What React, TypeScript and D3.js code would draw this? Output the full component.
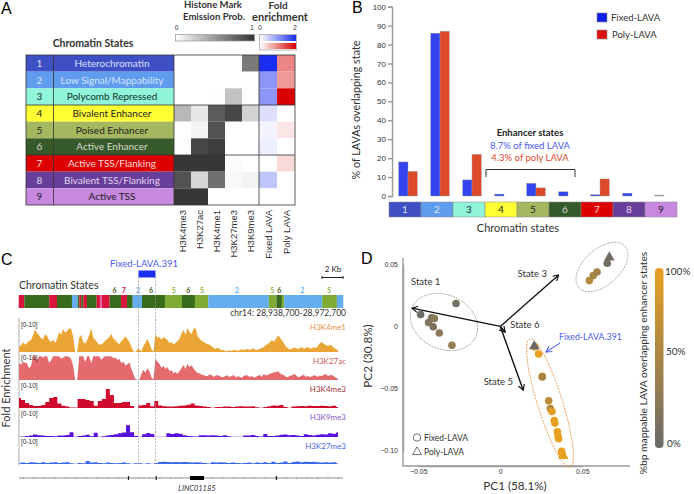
import * as d3 from "d3";
import { useEffect, useRef } from "react";

const sans = "Lato, 'Open Sans', sans-serif";
const arial = "'Liberation Sans', Arial, sans-serif";

// panel A
const stateIds = [1, 2, 3, 4, 5, 6, 7, 8, 9];
const stateNames = ["Heterochromatin", "Low Signal/Mappability", "Polycomb Repressed", "Bivalent Enhancer", "Poised Enhancer", "Active Enhancer", "Active TSS/Flanking", "Bivalent TSS/Flanking", "Active TSS"];
const stateColors = ["#3f4fc4", "#5f9cee", "#90f5d9", "#ffff33", "#a6b85f", "#375a2b", "#dd0000", "#673f9a", "#c888e0"];
const stateText = ["#d8e0ff", "#d6e6ff", "#12302c", "#222222", "#222222", "#d4dccc", "#ffdcdc", "#e2d4f2", "#222222"];
const marks = ["H3K4me3", "H3K27ac", "H3K4me1", "H3K27me3", "H3K9me3"];
const emission = [
  [0, 0, 0, 0, 0.65],
  [0, 0, 0, 0, 0],
  [0, 0, 0.01, 0.3, 0],
  [0.35, 0.12, 0.8, 0.9, 0.22],
  [0, 0.05, 0.85, 0, 0],
  [0.01, 0.9, 0.95, 0, 0],
  [0.98, 0.98, 0.98, 0.02, 0],
  [0.85, 0.2, 0.7, 0.03, 0.06],
  [0.98, 0.98, 0, 0, 0],
];
const foldFixed = [2, 1, 1, 0.3, 0.1, 0.15, 0, 0.55, 0];
const foldPoly = [0.95, 0.8, 2, 0, 0.2, 0, 0.3, 0, 0];

// panel B
const fixedPct = [18, 86, 8.5, 1, 6.7, 2.2, 0.7, 1.5, 0.5];
const polyPct = [13, 87, 22, 0, 4.3, 0, 9, 0, 0];

// panel C: chromatin segments, [state, end in kb]
const segments: [number, number][] = [
  [7, 0.59], [6, 3.2], [7, 4.01], [6, 5.58], [2, 6.18], [6, 6.35], [7, 6.55], [6, 6.76], [7, 7.15], [6, 8.17], [7, 8.51], [0, 8.72], [7, 9.53], [6, 10.71], [7, 11.34], [6, 11.94], [2, 12.91], [6, 15.32], [5, 17.1], [6, 18.46], [5, 19.85], [2, 26.2], [5, 27.0], [6, 27.57], [5, 27.81], [2, 31.79], [5, 33.33], [2, 34],
];
const segLabels: [string, number][] = [["6", 10.05], ["7", 11.0], ["2", 12.5], ["6", 13.85], ["5", 16.25], ["6", 17.75], ["5", 19.2], ["2", 22.85], ["5", 26.55], ["6", 27.3], ["2", 29.7], ["5", 32.5]];
const k4me1 = [
  1.8, 2.4, 3.5, 2.6, 3.2, 3.9, 4.3, 5.9, 8, 6.8, 6, 4.9, 4.6, 6.3, 5.7, 4.2, 3.6, 4.4, 3.2, 4.6,
  7.1, 6.2, 8.2, 6.9, 7.5, 8.5, 8.2, 5.5, 0, 0, 5, 6.2, 3.6, 3, 4.3, 6.1, 8.5, 5.2, 4.3, 3.4,
  2.5, 2.9, 3.2, 4.1, 4.6, 5.3, 6.4, 4.8, 4.3, 3.3, 2.9, 3.8, 4.6, 5.6, 4.6, 3.7, 1.8, 0.3, 0, 0.9,
  1, 0.2, 2.1, 3.3, 4.6, 3.1, 1, 0.1, 6.4, 5.1, 5.4, 4.4, 5.4, 4.8, 4.3, 3.2, 3.6, 2.7, 3.2, 3.9,
  4.6, 6.6, 7.9, 6.2, 8.6, 7.1, 6.4, 8.2, 8.6, 5.7, 4.6, 4.1, 3.6, 3.1, 2.9, 2.6, 2.1, 1.4, 1.1, 1.5,
  1.1, 0.6, 0.7, 0.3, 0.4, 0.6, 0.4, 0.8, 0.7, 0.4, 0.7, 1, 0.7, 0.9, 1.1, 0.7, 1.1, 1.3, 0.7, 0.9,
  1.1, 1.4, 1.8, 2.4, 2.9, 3.5, 4.3, 3.7, 4.6, 5.8, 5.4, 4.2, 3.2, 2, 1.4, 0.9, 1.1, 1.6, 1.4, 1.1,
  1.4, 1.8, 1.1, 1.5, 1.8, 1.2, 1.4, 1.7, 1.4, 2.1, 3.2, 3.5, 2.9, 2.4, 2.1, 2.6, 2.1, 1.5, 1.1, 0.6,
];
const k27ac = [
  6, 5.5, 6.5, 6.2, 6, 4.2, 5, 8.5, 8.5, 7.2, 8.5, 8.5, 8, 8.5, 8.5, 6.2, 7, 8.5, 8.5, 8.5,
  8.5, 7.6, 8, 8.5, 8.5, 8.2, 7.5, 5, 0, 0, 8.5, 8.5, 8.5, 6.3, 8.5, 8.5, 6, 8.5, 8.5, 8.5,
  8.5, 7.1, 8, 8.5, 8.5, 8.5, 8.5, 7.9, 8, 7.2, 7.5, 6.1, 6.5, 5.2, 5.5, 6.3, 4, 2.1, 0.4, 0,
  0, 2.1, 3.6, 2.6, 4.2, 3.1, 1, 0.1, 7.5, 6.6, 5.7, 4.4, 5, 3.9, 4.6, 3.2, 3.5, 2.4, 2.9, 2.2,
  3.2, 4.2, 5.4, 3.9, 5.7, 4.6, 5.3, 4.1, 3.2, 2.5, 2.4, 1.9, 1.8, 1.3, 1.4, 2, 1.8, 1.2, 1.5, 1.8,
  1.4, 1, 1.1, 1.5, 1.6, 1.1, 1.4, 1.8, 1, 1.3, 1.2, 0.8, 1.4, 1.7, 1.6, 1.1, 1.4, 0.9, 1.1, 1.5,
  1.8, 1.2, 2.1, 1.6, 1.8, 2.2, 2.4, 2.7, 2.9, 3.1, 2.5, 2, 1.8, 1.2, 1, 1.5, 1.6, 2.1, 1.8, 1,
  1.2, 1.6, 1.8, 1.2, 1.4, 1.1, 1.3, 1.7, 1.4, 1.2, 1.6, 1.3, 1.9, 2.1, 1.4, 1.7, 1.8, 1.3, 0.8, 0.4,
];
const k4me3 = [3.6, 2.9, 1.8, 1.1, 0.7, 0.7, 1.1, 2.1, 3.6, 3.9, 1.6, 0.8, 0.5, 0.2, 0.2, 3.2, 3.2, 2.9, 2.5, 0.8, 2.5, 3.2, 6.8, 4.6, 1.8, 1.8, 2.1, 2.1, 0.7, 0, 0.9, 1.1, 1.8, 0.6, 2.5, 0.9, 0.6, 0.5, 0.5, 0.6, 0.8, 0.9, 1.2, 1.6, 0.9, 0.7, 0.5, 0.4, 0.1, 0.4, 0.4, 0.5, 0.5, 0.4, 0.5, 0.6, 0.5, 0.5, 0.6, 0.3, 0.1, 0.4, 0.6, 0.9, 0.8, 1.1, 0.4, 0.1, 0.5, 0.6, 0.7, 0.6, 0.8, 0.7, 0.7, 0.8, 0.7, 0.6, 0.8, 0.4];
const k9me3 = [0.1, 0.2, 0.4, 0.5, 0.9, 0.6, 0.5, 0.4, 0.4, 0.3, 0.5, 0.5, 0.7, 1.7, 0.1, 0.4, 0.5, 0.8, 0.3, 1.5, 0.1, 0.3, 0.5, 0.7, 1, 1.3, 1.6, 4.2, 1.7, 0.4, 0.1, 1, 1.4, 1.1, 0.1, 0.1, 0.1, 1.3, 1.1, 1.3, 1.2, 0.6, 0.4, 0.3, 0.2, 0.6, 0.6, 0.5, 0.6, 0.5, 0.4, 0.6, 0.3, 0.1, 0.1, 0.1, 0.5, 0.5, 0.7, 0.4, 0.2, 1.1, 0.4, 0.4, 0.5, 0.8, 0.9, 0.6, 0.7, 0.5, 0.4, 1, 0.7, 0.5, 0.8, 1, 0.9, 1.3, 1.2, 1.6];
const k27me3 = [0.3, 0.5, 0.4, 0.6, 0.5, 0.4, 0.6, 0.4, 0.5, 0.6, 0.4, 0.5, 0.6, 0.3, 0.1, 0.4, 0.3, 1.1, 0.5, 0.6, 0.4, 0.3, 0.5, 0.4, 0.3, 0.4, 0.5, 0.3, 0.1, 0.3, 0.3, 0.1, 0.3, 0.1, 0.4, 0.7, 0.8, 0.7, 0.6, 0.7, 0.6, 0.7, 0.6, 0.5, 0.6, 0.5, 0.4, 0.2, 0.6, 0.5, 0.6, 0.5, 0.4, 0.5, 0.4, 0.3, 0.4, 0.5, 0.3, 0.5, 0.4, 0.6, 0.4, 0.8, 0.4, 0.5, 0.9, 0.4, 0.7, 0.9, 0.6, 0.8, 0.7, 0.8, 0.6, 0.5, 0.6, 0.5, 0.6, 0.3];
const tracks = [
  { name: "H3K4me1", values: k4me1, base: 352, fill: "#eba535", text: "#e8904a", labelY: 330, rangeY: 327 },
  { name: "H3K27ac", values: k27ac, base: 380, fill: "#e46a6e", text: "#c95a5c", labelY: 364, rangeY: 360 },
  { name: "H3K4me3", values: k4me3, base: 408, fill: "#cf0a2c", text: "#a83236", labelY: 392, rangeY: 388 },
  { name: "H3K9me3", values: k9me3, base: 437, fill: "#5a10e0", text: "#8458c4", labelY: 420, rangeY: 416 },
  { name: "H3K27me3", values: k27me3, base: 464, fill: "#3a66e8", text: "#4a68e0", labelY: 449, rangeY: 444 },
];
const exonsKb = [11.5, 14.4, 27];

// panel D
const fixedPts: [number, number, number][] = [
  [0.0211, -0.0166, 100], [0.0256, -0.0402, 100],
  [-0.027, 0.0184, 10], [-0.0486, 0.0096, 5], [-0.0419, 0.007, 15], [-0.0402, 0.0064, 25], [-0.0437, 0.0032, 20], [-0.0409, -0.0003, 15], [-0.0372, -0.0053, 28], [-0.0295, -0.0152, 35],
  [0.0543, 0.0369, 60], [0.0567, 0.0409, 50], [0.059, 0.0438, 45], [0.0652, 0.0508, 8],
  [0.0234, -0.0222, 100], [0.0256, -0.0406, 50], [0.0295, -0.0599, 65], [0.0305, -0.066, 60], [0.0315, -0.0684, 95], [0.0329, -0.0757, 100], [0.0333, -0.0778, 100], [0.0348, -0.0848, 100], [0.0352, -0.0882, 100], [0.0356, -0.0904, 100], [0.0374, -0.1005, 100], [0.0378, -0.1029, 100],
];
const polyPts: [number, number, number][] = [[0.0665, 0.0556, 5], [0.0207, -0.016, 0], [0.0384, -0.1043, 100]];
const loadings: [string, number, number, number, number][] = [
  ["State 1", -0.0538, 0.0147, -0.0455, 0.0335],
  ["State 3", 0.0356, 0.0414, 0.0195, 0.0395],
  ["State 6", 0.003, -0.0045, 0.015, -0.0015],
  ["State 5", 0.014, -0.0513, -0.0012, -0.047],
];

function Axis({ axis, transform, size = 7 }: { axis: any; transform: string; size?: number }) {
  const ref = useRef<SVGGElement>(null);
  useEffect(() => {
    const g = d3.select(ref.current).call(axis);
    g.selectAll("path,line").attr("stroke", "#9a9a9a").attr("stroke-width", 1.4);
    g.selectAll("text").attr("fill", "#333").attr("font-family", arial).attr("font-size", size);
  }, [axis]);
  return <g ref={ref} transform={transform} />;
}

function PanelA() {
  const y = d3.scaleBand<number>().domain(d3.range(9)).range([55, 205]);
  const x = d3.scaleBand<string>().domain(marks).range([174, 259]);
  const xf = d3.scaleBand<string>().domain(["Fixed LAVA", "Poly LAVA"]).range([259, 295]);
  const grey = d3.scaleLinear<string>().domain([0, 1]).range(["#ffffff", "#333333"]);
  const blue = d3.scaleLinear<string>().domain([0, 2]).range(["#ffffff", "#1a2cf0"]);
  const red = d3.scaleLinear<string>().domain([0, 2]).range(["#ffffff", "#d80000"]);
  const h = y.bandwidth();
  return (
    <g>
      <text x={1} y={14} fontFamily={arial} fontSize={16}>A</text>
      <g fontFamily={sans} fontWeight={700} fontSize={9.5} fill="#333" textAnchor="middle">
        <text x={213} y={8}>Histone Mark</text>
        <text x={214} y={20}>Emission Prob.</text>
        <text x={278} y={9} fontSize={10}>Fold</text>
        <text x={280} y={21} fontSize={11}>enrichment</text>
        <text x={93} y={47} fontSize={10.5}>Chromatin States</text>
      </g>
      <defs>
        <linearGradient id="greyBar"><stop offset="0" stopColor="#fff" /><stop offset="1" stopColor="#333" /></linearGradient>
        <linearGradient id="blueBar"><stop offset="0" stopColor="#fff" /><stop offset="1" stopColor="#1a2cf0" /></linearGradient>
        <linearGradient id="redBar"><stop offset="0" stopColor="#fff" /><stop offset="1" stopColor="#d80000" /></linearGradient>
      </defs>
      <rect x={175.5} y={34.5} width={79} height={6.5} fill="url(#greyBar)" stroke="#999" strokeWidth={0.7} />
      <rect x={259.5} y={34.5} width={37} height={15.5} fill="#fff" stroke="#999" strokeWidth={0.7} />
      <rect x={260} y={35} width={36} height={6} fill="url(#blueBar)" />
      <rect x={260} y={43} width={36} height={6} fill="url(#redBar)" />
      <g fontFamily={arial} fontSize={6.5} fill="#333" textAnchor="middle">
        <text x={176.5} y={30}>0</text>
        <text x={252} y={30}>1</text>
        <text x={260} y={30}>0</text>
        <text x={295} y={30}>2</text>
      </g>
      {stateIds.map((id, i) => (
        <g key={id}>
          <rect x={26} y={y(i)} width={148} height={h} fill={stateColors[i]} />
          <text x={39.5} y={y(i)! + h / 2 + 3.5} textAnchor="middle" fontFamily={sans} fontSize={10} fill={stateText[i]}>{id}</text>
          <text x={112} y={y(i)! + h / 2 + 3.5} textAnchor="middle" fontFamily={sans} fontSize={10} fill={stateText[i]}>{stateNames[i]}</text>
          {marks.map((m, j) => (
            <rect key={m} x={x(m)} y={y(i)} width={x.bandwidth()} height={h} fill={grey(emission[i][j])} />
          ))}
          <rect x={xf("Fixed LAVA")} y={y(i)} width={xf.bandwidth()} height={h} fill={blue(foldFixed[i])} />
          <rect x={xf("Poly LAVA")} y={y(i)} width={xf.bandwidth()} height={h} fill={red(foldPoly[i])} />
        </g>
      ))}
      <g stroke="#333" strokeWidth={0.8} fill="none">
        <rect x={26} y={55} width={269} height={150} />
        <line x1={53.5} x2={53.5} y1={55} y2={205} />
        <line x1={174} x2={174} y1={55} y2={205} />
        <line x1={259} x2={259} y1={55} y2={205} />
        <line x1={26} x2={295} y1={y(3)} y2={y(3)} />
        <line x1={26} x2={295} y1={y(6)} y2={y(6)} />
      </g>
      <g fontFamily={arial} fontSize={9.5} fill="#333" textAnchor="end">
        {marks.map((m) => (
          <text key={m} transform={`translate(${x(m)! + x.bandwidth() / 2 + 3.5},210) rotate(-90)`}>{m}</text>
        ))}
        {xf.domain().map((m) => (
          <text key={m} transform={`translate(${xf(m)! + xf.bandwidth() / 2 + 3.5},210) rotate(-90)`}>{m}</text>
        ))}
      </g>
    </g>
  );
}

function PanelB() {
  const x = d3.scaleBand<number>().domain(stateIds).range([389, 677]);
  const y = d3.scaleLinear().domain([0, 100]).range([196, 6.7]);
  const yAxis = d3.axisLeft(y).tickValues(d3.range(0, 101, 10)).tickSize(4).tickPadding(2);
  return (
    <g>
      <text x={352} y={13} fontFamily={arial} fontSize={16}>B</text>
      <Axis axis={yAxis} transform="translate(392,0)" size={8} />
      {stateIds.map((id, i) => (
        <g key={id} stroke="#999" strokeWidth={0.4}>
          <rect x={x(id)! + 9.7} y={y(fixedPct[i])} width={9.3} height={y(0) - y(fixedPct[i])} fill={i === 8 ? "#999" : "#3344ee"} />
          {polyPct[i] > 0 && <rect x={x(id)! + 19} y={y(polyPct[i])} width={9.3} height={y(0) - y(polyPct[i])} fill="#dd4a2b" />}
        </g>
      ))}
      {stateIds.map((id, i) => (
        <g key={id}>
          <rect x={x(id)} y={202} width={x.bandwidth()} height={15} fill={stateColors[i]} stroke="#888" strokeWidth={0.5} />
          <text x={x(id)! + x.bandwidth() / 2} y={213} textAnchor="middle" fontFamily={sans} fontSize={10} fill={stateText[i]}>{id}</text>
        </g>
      ))}
      <text x={518} y={232} textAnchor="middle" fontFamily={sans} fontSize={11} fill="#333">Chromatin states</text>
      <text transform="translate(360,110) rotate(-90)" textAnchor="middle" fontFamily={sans} fontSize={10.8} fill="#333">% of LAVAs overlapping  state</text>
      <rect x={597} y={13} width={10} height={9} fill="#1020e8" stroke="#888" strokeWidth={0.6} />
      <rect x={597} y={30} width={10} height={9} fill="#dd1111" stroke="#888" strokeWidth={0.6} />
      <g fontFamily={sans} fontSize={9.5} fill="#333">
        <text x={611} y={21}>Fixed-LAVA</text>
        <text x={612} y={38}>Poly-LAVA</text>
      </g>
      <g fontFamily={sans} fontSize={9.5} textAnchor="middle">
        <text x={530} y={136} fontWeight={700} fill="#222">Enhancer states</text>
        <text x={530} y={149} fill="#4a5cf0">8.7% of fixed LAVA</text>
        <text x={530} y={161} fill="#e0472a">4.3% of poly LAVA</text>
      </g>
      <path d="M486,177V169.5H575V177" fill="none" stroke="#333" strokeWidth={1} />
    </g>
  );
}

function PanelC() {
  const kb = d3.scaleLinear().domain([0, 34]).range([18.7, 343.3]);
  const segColor = (s: number) => (s === 7 ? "#d8143c" : s === 6 ? "#386b1c" : s === 5 ? "#7fab35" : s === 2 ? "#64aef0" : "#e860b0");
  const labelColor = (s: string) => (s === "7" ? "#d8143c" : s === "6" ? "#4a5a2a" : s === "5" ? "#8cb040" : "#64aef0");
  const area = (base: number, n: number) => {
    const ix = d3.scaleLinear().domain([0, n - 1]).range([19, 338]);
    return d3.area<number>().x((_, i) => ix(i)).y0(base).y1((d) => base - d * 2.8).curve(n < 100 ? d3.curveStep : d3.curveLinear);
  };
  return (
    <g>
      <text x={1} y={265} fontFamily={arial} fontSize={16}>C</text>
      <text x={144} y={267} textAnchor="middle" fontFamily={sans} fontSize={9.5} fill="#4a5cf0">Fixed-LAVA.391</text>
      <rect x={138.5} y={270.5} width={17} height={7} fill="#1a30ee" />
      <text x={19} y={289} fontFamily={sans} fontSize={10.5} fill="#333">Chromatin States</text>
      <text x={333} y={272} textAnchor="middle" fontFamily={sans} fontSize={8} fill="#222">2 Kb</text>
      <path d="M322,276V279M322,277.5H343M343,276V279" stroke="#222" strokeWidth={1} fill="none" />
      {segments.map(([s, end], i) => {
        const start = i === 0 ? 0 : segments[i - 1][1];
        return <rect key={i} x={kb(start)} y={295} width={kb(end) - kb(start)} height={13} fill={segColor(s)} />;
      })}
      {segLabels.map(([s, k], i) => (
        <text key={i} x={kb(k)} y={293} textAnchor="middle" fontFamily={sans} fontWeight={700} fontSize={7} fill={labelColor(s)}>{s}</text>
      ))}
      <text x={346} y={316} textAnchor="end" fontFamily={sans} fontSize={8.5} fill="#333">chr14: 28,938,700-28,972,700</text>
      <line x1={19} x2={19} y1={318} y2={465} stroke="#bbb" strokeWidth={1.2} />
      {tracks.map((t) => (
        <g key={t.name}>
          <path d={area(t.base, t.values.length)(t.values)!} fill={t.fill} />
          <text x={346} y={t.labelY} textAnchor="end" fontFamily={sans} fontSize={8} fill={t.text}>{t.name}</text>
          <text x={21} y={t.rangeY} fontFamily={arial} fontSize={6.5} fill="#333">[0-10]</text>
        </g>
      ))}
      <g stroke="#999" strokeWidth={0.7} strokeDasharray="2,1.5">
        <line x1={138.5} x2={138.5} y1={277} y2={466} />
        <line x1={155.5} x2={155.5} y1={277} y2={466} />
      </g>
      <text transform="translate(10,388) rotate(-90)" textAnchor="middle" fontFamily={sans} fontSize={11} fill="#333">Fold Enrichment</text>
      <line x1={19} x2={343} y1={478} y2={478} stroke="#444" strokeWidth={0.6} />
      {d3.range(0.5, 34, 1.1).map((k) => (
        <line key={k} x1={kb(k)} x2={kb(k)} y1={476.8} y2={479.2} stroke="#8090c0" strokeWidth={0.5} />
      ))}
      {exonsKb.map((k) => (
        <rect key={k} x={kb(k) - 0.6} y={476} width={1.2} height={4} fill="#222" />
      ))}
      <rect x={190} y={476} width={14} height={4} fill="#000" />
      <text x={197} y={491} textAnchor="middle" fontFamily={sans} fontStyle="italic" fontSize={7.5} fill="#333">LINC01185</text>
    </g>
  );
}

function PanelD() {
  const x = d3.scaleLinear().domain([-0.05, 0.05]).range([418.3, 582.3]);
  const y = d3.scaleLinear().domain([-0.1, 0.05]).range([450.7, 264.3]);
  const pct = d3.scaleLinear<string>().domain([0, 100]).range(["#6a6a6a", "#e8a020"]);
  const fmt = (d: any) => (d === 0 ? "0" : d3.format(".2f")(d));
  const xAxis = d3.axisBottom(x).tickValues([-0.05, 0, 0.05]).tickFormat(fmt).tickSize(0).tickPadding(3);
  const yAxis = d3.axisLeft(y).tickValues([-0.1, -0.05, 0, 0.05]).tickFormat(fmt).tickSize(0).tickPadding(5);
  const tri = d3.symbol().type(d3.symbolTriangle).size(48);
  return (
    <g>
      <text x={361} y={264} fontFamily={arial} fontSize={16}>D</text>
      <defs>
        <linearGradient id="pctBar" x1="0" x2="0" y1="0" y2="1"><stop offset="0" stopColor="#e8a020" /><stop offset="1" stopColor="#6a6a6a" /></linearGradient>
        <marker id="head" viewBox="0 0 10 10" refX={9} refY={5} markerWidth={7} markerHeight={7} orient="auto-start-reverse" markerUnits="userSpaceOnUse">
          <path d="M1,0.5L9,5L1,9.5" fill="none" stroke="#111" strokeWidth={1.6} />
        </marker>
        <marker id="headBlue" viewBox="0 0 10 10" refX={9} refY={5} markerWidth={7} markerHeight={7} orient="auto" markerUnits="userSpaceOnUse">
          <path d="M1,0.5L9,5L1,9.5" fill="none" stroke="#3a4cf0" strokeWidth={1.4} />
        </marker>
      </defs>
      <path d="M403,258V466H630" fill="none" stroke="#9a9a9a" strokeWidth={1.4} />
      <Axis axis={yAxis} transform="translate(403,0)" />
      <Axis axis={xAxis} transform="translate(0,466)" />
      <g fill="none" strokeWidth={0.8} strokeDasharray="2,1">
        <ellipse cx={444} cy={322} rx={35} ry={27} transform="rotate(25 444 322)" stroke="#999" />
        <ellipse cx={602} cy={267} rx={31} ry={18} transform="rotate(-42 602 267)" stroke="#999" />
        <ellipse cx={550} cy={403} rx={67} ry={12.5} transform="rotate(72.5 550 403)" stroke="#e88a3c" />
      </g>
      {fixedPts.map((d, i) => (
        <circle key={i} cx={x(d[0])} cy={y(d[1])} r={3.8} fill={pct(d[2])} />
      ))}
      {polyPts.map((d, i) => (
        <path key={i} d={tri()!} transform={`translate(${x(d[0])},${y(d[1])})`} fill={pct(d[2])} />
      ))}
      {loadings.map(([name, ex, ey, lx, ly]) => (
        <g key={name}>
          <line x1={x(0)} y1={y(0)} x2={x(ex)} y2={y(ey)} stroke="#111" strokeWidth={1.4} markerEnd="url(#head)" />
          <text x={x(lx)} y={y(ly)} textAnchor="middle" fontFamily={sans} fontSize={9.5} fill="#333">{name}</text>
        </g>
      ))}
      <line x1={560} y1={343} x2={546} y2={352} stroke="#3a4cf0" strokeWidth={1} markerEnd="url(#headBlue)" />
      <text x={559} y={340} fontFamily={sans} fontSize={8.8} fill="#4a5cf0">Fixed-LAVA.391</text>
      <circle cx={417} cy={437.5} r={3.7} fill="none" stroke="#333" strokeWidth={0.7} />
      <path d={d3.symbol().type(d3.symbolTriangle).size(34)()!} transform="translate(417,452)" fill="none" stroke="#333" strokeWidth={0.7} />
      <g fontFamily={sans} fontSize={8.5} fill="#333">
        <text x={424} y={440.5}>Fixed-LAVA</text>
        <text x={424} y={454.5}>Poly-LAVA</text>
      </g>
      <text x={515} y={490} textAnchor="middle" fontFamily={sans} fontSize={11.7} fill="#333">PC1 (58.1%)</text>
      <text transform="translate(372,356) rotate(-90)" textAnchor="middle" fontFamily={sans} fontSize={11.7} fill="#333">PC2 (30.8%)</text>
      <rect x={655} y={268} width={8.5} height={180} rx={4} fill="url(#pctBar)" />
      <g fontFamily={sans} fontSize={10} fill="#333">
        <text x={665} y={275}>100%</text>
        <text x={666} y={355}>50%</text>
        <text x={667} y={447}>0%</text>
      </g>
      <text transform="translate(647,363) rotate(-90)" textAnchor="middle" fontFamily={sans} fontSize={10.3} fill="#333">%bp mappable LAVA overlapping enhancer states</text>
    </g>
  );
}

export default function App() {
  return (
    <svg width={694} height={494} style={{ position: "absolute", left: 0, top: 0, background: "#fff" }}>
      <PanelA />
      <PanelB />
      <PanelC />
      <PanelD />
    </svg>
  );
}
